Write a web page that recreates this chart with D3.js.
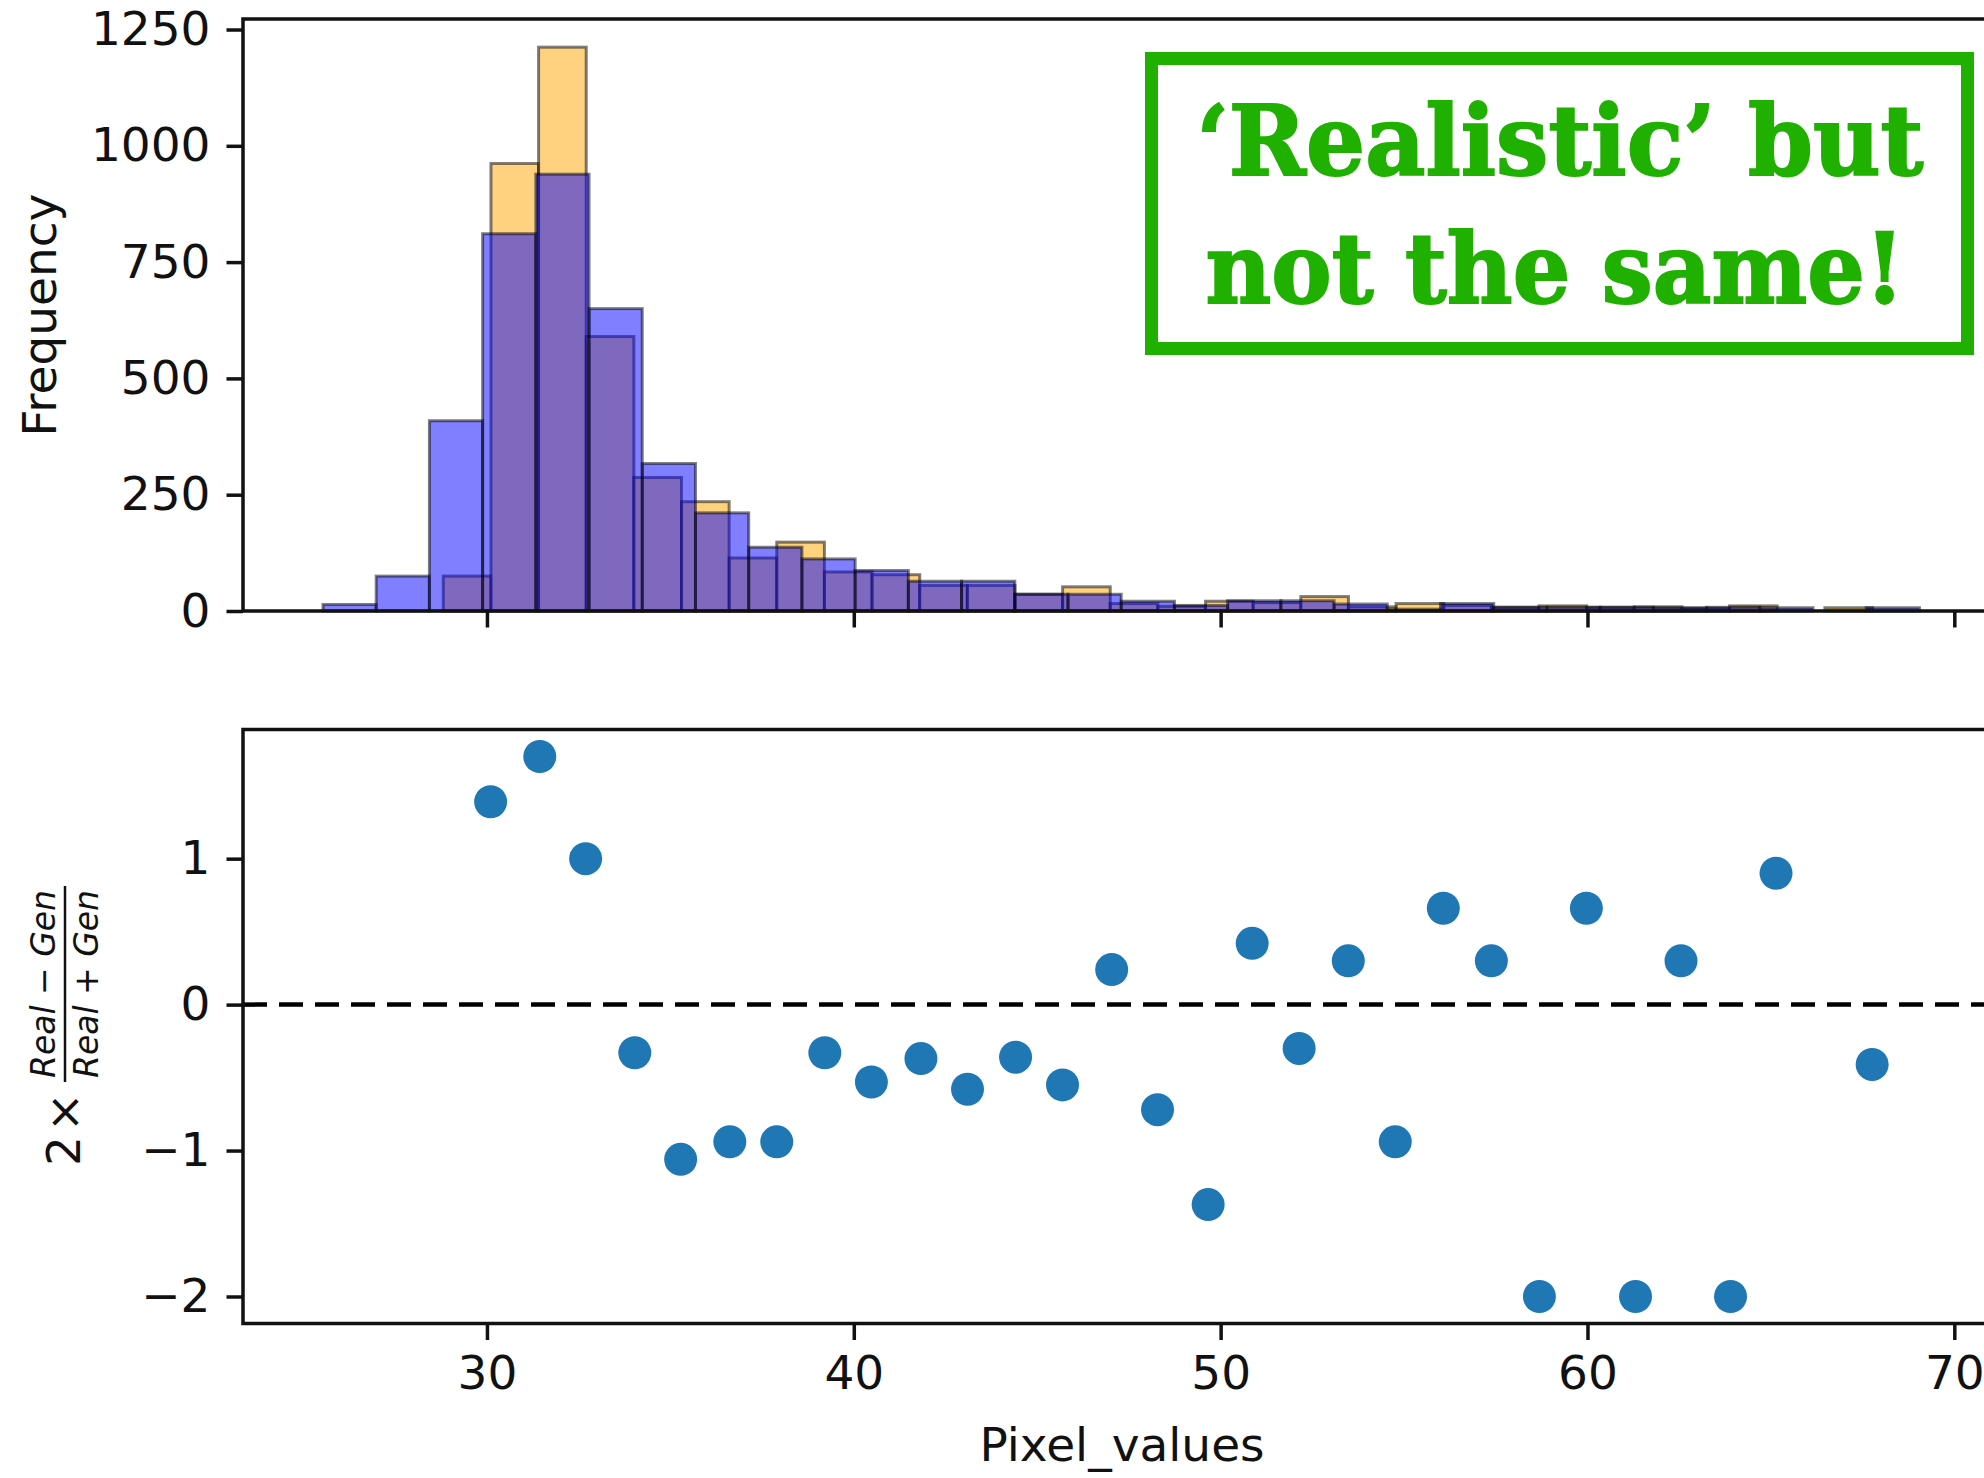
<!DOCTYPE html>
<meta charset="utf-8">
<style>

body {
  margin: 0;
  background: #fff;
}

text {
  font-family: "DejaVu Sans", sans-serif;
  fill: #111;
}

.axis text {
  font-size: 47px;
}

.axis line {
  stroke: #111;
  stroke-width: 3.5px;
}

.frame {
  fill: none;
  stroke: #111;
  stroke-width: 3.5px;
}

.bar {
  stroke: #000;
  stroke-opacity: 0.5;
  stroke-width: 3px;
}

</style>
<body></body>
<script src="https://d3js.org/d3.v7.min.js"></script>
<script>

// orange histogram (drawn first) and blue histogram, 30 bins each
var orangeRange = [28.81, 67.77];
var orangeCounts = [75, 962, 1212, 590, 287, 235, 114, 148, 84, 78, 55, 55, 36, 52, 16,
                    10, 21, 18, 31, 9, 16, 12, 8, 11, 8, 9, 6, 11, 0, 7];
var blueRange = [25.53, 69.05];
var blueCounts = [14, 75, 409, 811, 939, 650, 317, 211, 137, 112, 87, 64, 64, 36, 36,
                  21, 12, 22, 22, 15, 4, 16, 8, 8, 8, 7, 8, 7, 0, 7];

// lower panel: 2*(Real-Gen)/(Real+Gen)
var ratioX = [30.10, 31.44, 32.69, 34.03, 35.28, 36.62, 37.90, 39.21, 40.48, 41.83,
              43.10, 44.41, 45.69, 47.03, 48.28, 49.66, 50.86, 52.14, 53.48, 54.76,
              56.07, 57.38, 58.69, 59.97, 61.31, 62.55, 63.90, 65.14, 67.76];
var ratioY = [1.39, 1.70, 1.00, -0.33, -1.06, -0.94, -0.94, -0.33, -0.53, -0.37,
              -0.58, -0.36, -0.55, 0.24, -0.72, -1.37, 0.42, -0.30, 0.30, -0.94,
              0.66, 0.30, -2.0, 0.66, -2.0, 0.30, -2.0, 0.90, -0.41];

var xTicks = [30, 40, 50, 60, 70];
var freqTicks = [0, 250, 500, 750, 1000, 1250];
var ratioTicks = [-2, -1, 0, 1];

var width = 1984,
    height = 1478;

var svg = d3.select("body").append("svg")
    .attr("width", width)
    .attr("height", height);

var x = d3.scaleLinear().domain([23.35, 71.30]).range([243, 2002]);
var yTop = d3.scaleLinear().domain([0, 1272.6]).range([611, 19]);
var yBot = d3.scaleLinear().domain([-2.185, 1.885]).range([1323.5, 729.5]);

function bins(range, counts) {
  var w = (range[1] - range[0]) / counts.length;
  return counts.map(function(c, i) {
    return {x0: range[0] + i * w, x1: range[0] + (i + 1) * w, n: c};
  });
}

function drawHist(data, fill) {
  svg.append("g")
    .selectAll("rect")
    .data(data)
    .enter().append("rect")
      .attr("class", "bar")
      .attr("x", function(d) { return x(d.x0); })
      .attr("width", function(d) { return x(d.x1) - x(d.x0); })
      .attr("y", function(d) { return yTop(d.n); })
      .attr("height", function(d) { return yTop(0) - yTop(d.n); })
      .style("fill", fill)
      .style("fill-opacity", 0.5);
}

drawHist(bins(orangeRange, orangeCounts), "orange");
drawHist(bins(blueRange, blueCounts), "blue");

// top panel axes
svg.append("g")
    .attr("class", "axis")
    .attr("transform", "translate(243,0)")
    .call(d3.axisLeft(yTop).tickValues(freqTicks).tickFormat(d3.format("d"))
      .tickSize(16.5).tickPadding(16).tickSizeOuter(0))
    .call(function(g) { g.select(".domain").remove(); });

svg.append("g")
    .attr("class", "axis")
    .attr("transform", "translate(0,611)")
    .call(d3.axisBottom(x).tickValues(xTicks).tickSize(16.5).tickFormat("").tickSizeOuter(0))
    .call(function(g) { g.select(".domain").remove(); });

svg.append("rect")
    .attr("class", "frame")
    .attr("x", x.range()[0])
    .attr("y", yTop.range()[1])
    .attr("width", x.range()[1] - x.range()[0])
    .attr("height", yTop.range()[0] - yTop.range()[1]);

svg.append("text")
    .attr("transform", "translate(56,315) rotate(-90)")
    .attr("text-anchor", "middle")
    .style("font-size", "47px")
    .text("Frequency");

// annotation box
svg.append("rect")
    .attr("x", 1151.5)
    .attr("y", 58.5)
    .attr("width", 816)
    .attr("height", 290)
    .style("fill", "#fff")
    .style("stroke", "#20b000")
    .style("stroke-width", 13);

var note = [["\u2018Realistic\u2019 but", 1560, 175, 727], ["not the same!", 1555, 303, 699]];
svg.selectAll(".note")
    .data(note)
    .enter().append("text")
      .attr("class", "note")
      .attr("x", function(d) { return d[1]; })
      .attr("y", function(d) { return d[2]; })
      .attr("text-anchor", "middle")
      .attr("textLength", function(d) { return d[3]; })
      .attr("lengthAdjust", "spacingAndGlyphs")
      .style("font-family", "'DejaVu Serif', serif")
      .style("font-weight", "bold")
      .style("font-size", "98px")
      .style("fill", "#20b000")
      .style("stroke", "#20b000")
      .style("stroke-width", 2)
      .text(function(d) { return d[0]; });

// bottom panel
svg.append("line")
    .attr("x1", x.range()[0])
    .attr("x2", x.range()[1])
    .attr("y1", yBot(0))
    .attr("y2", yBot(0))
    .style("stroke", "#000")
    .style("stroke-width", 4.5)
    .style("stroke-dasharray", "24,12");

svg.append("g")
  .selectAll("circle")
  .data(ratioX)
  .enter().append("circle")
    .attr("cx", function(d) { return x(d); })
    .attr("cy", function(d, i) { return yBot(ratioY[i]); })
    .attr("r", 16.5)
    .style("fill", "#1f77b4");

svg.append("g")
    .attr("class", "axis")
    .attr("transform", "translate(243,0)")
    .call(d3.axisLeft(yBot).tickValues(ratioTicks).tickSize(16.5).tickPadding(16).tickSizeOuter(0)
      .tickFormat(function(d) { return d < 0 ? "\u2212" + Math.abs(d) : d; }))
    .call(function(g) { g.select(".domain").remove(); });

svg.append("g")
    .attr("class", "axis")
    .attr("transform", "translate(0,1323.5)")
    .call(d3.axisBottom(x).tickValues(xTicks).tickSize(16.5).tickPadding(16).tickSizeOuter(0))
    .call(function(g) { g.select(".domain").remove(); });

svg.append("rect")
    .attr("class", "frame")
    .attr("x", x.range()[0])
    .attr("y", yBot.range()[1])
    .attr("width", x.range()[1] - x.range()[0])
    .attr("height", yBot.range()[0] - yBot.range()[1]);

svg.append("text")
    .attr("x", 1122)
    .attr("y", 1461)
    .attr("text-anchor", "middle")
    .style("font-size", "47px")
    .text("Pixel_values");

// y label: 2 x (Real - Gen)/(Real + Gen)
var lab = svg.append("g")
    .attr("transform", "translate(63,1026) rotate(-90)");

lab.append("text").attr("x", -140).attr("y", 17).style("font-size", "47px").text("2");
lab.append("text").attr("x", -106).attr("y", 17).style("font-size", "47px").text("\u00d7");

lab.append("line")
    .attr("x1", -56).attr("x2", 140)
    .attr("y1", 2).attr("y2", 2)
    .style("stroke", "#111")
    .style("stroke-width", 2.5);

[["Real", " \u2212 ", "Gen", -8], ["Real", " + ", "Gen", 35]].forEach(function(p) {
  var t = lab.append("text")
      .attr("x", 42)
      .attr("y", p[3])
      .attr("text-anchor", "middle")
      .style("font-size", "33px");
  t.append("tspan").style("font-style", "italic").text(p[0]);
  t.append("tspan").text(p[1]);
  t.append("tspan").style("font-style", "italic").text(p[2]);
});

</script>
